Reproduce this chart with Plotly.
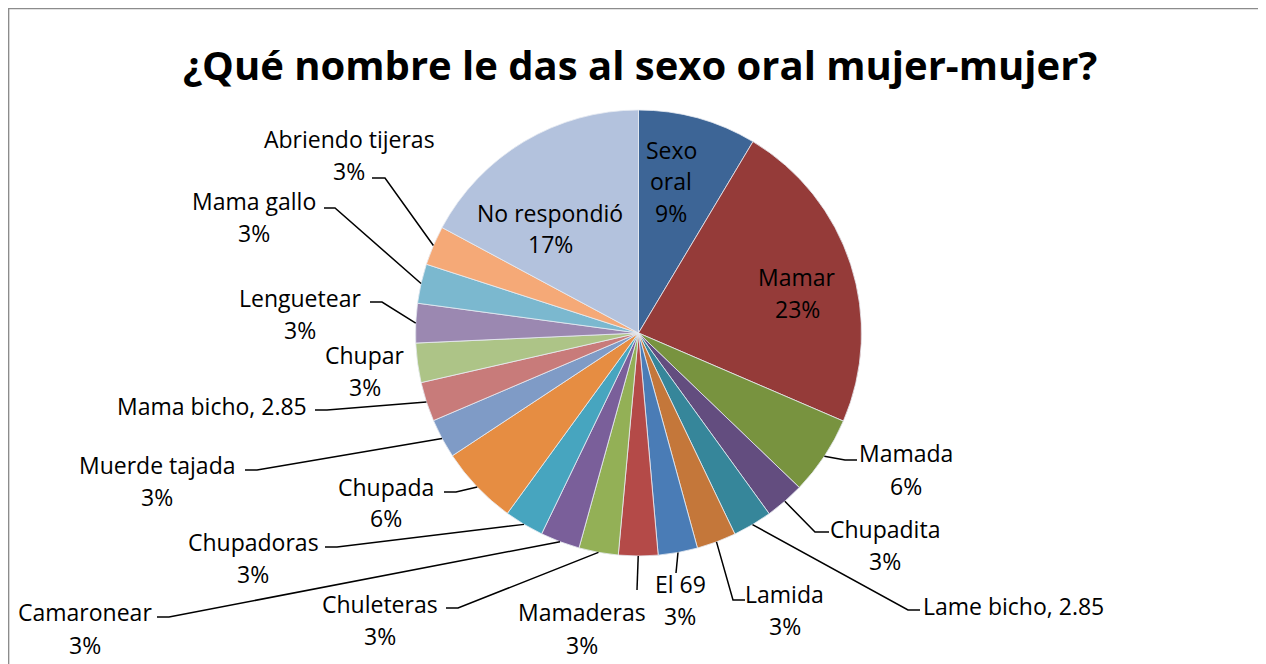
import math
import plotly.graph_objects as go

W, H = 1266, 664
OX, OY = 8, 8  # page offset of the figure inside the browser window

# --- DATA ---
labels = ["Sexo oral", "Mamar", "Mamada", "Chupadita", "Lame bicho", "Lamida", "El 69",
          "Mamaderas", "Chuleteras", "Camaronear", "Chupadoras", "Chupada", "Muerde tajada",
          "Mama bicho", "Chupar", "Lenguetear", "Mama gallo", "Abriendo tijeras", "No respondió"]
values = [8.57, 22.86, 5.71, 2.85, 2.85, 2.85, 2.85, 2.85, 2.85, 2.85, 2.85, 5.71, 2.85,
          2.85, 2.85, 2.85, 2.85, 2.85, 17.14]
value_labels = ["Lame bicho", "Mama bicho"]  # these show "name, value" instead of percent

colors = ["#3D6596", "#953B39", "#78933F", "#634D7F", "#36869A", "#C4773A", "#4A7CB6",
          "#B44A48", "#93B056", "#7A5F9A", "#47A5BF", "#E68D42", "#7F9BC6", "#C87B7A",
          "#ADC487", "#9B88B1", "#7BB8CF", "#F5A977", "#B3C2DD"]

# --- LAYOUT: label positions in window pixels (text centre) and leader elbows ---
cx, cy, r = 638.5, 333, 223
label_pos = {
    "Sexo oral": (671, [150, 181, 213], None),
    "Mamar": (797, [277, 309], None),
    "No respondió": (550, [213, 244], None),
    "Mamada": (906, [453, 486], [(857, 460), (845, 460)]),
    "Chupadita": (885, [529, 561], [(829, 532), (815, 532)]),
    "Lame bicho": (1013, [606], [(920, 610), (908, 610)]),
    "Lamida": (785, [594, 626], [(745, 600), (733, 600)]),
    "El 69": (680, [584, 616], [(676, 573)]),
    "Mamaderas": (582, [612, 645], [(637, 590)]),
    "Chuleteras": (380, [604, 636], [(446, 608), (458, 608)]),
    "Camaronear": (85, [612, 645], [(157, 617), (169, 617)]),
    "Chupadoras": (253, [542, 574], [(325, 547), (337, 547)]),
    "Chupada": (386, [487, 518], [(444, 492), (456, 492)]),
    "Muerde tajada": (157, [465, 497], [(245, 470), (257, 470)]),
    "Mama bicho": (212, [406], [(315, 410), (327, 410)]),
    "Chupar": (365, [355, 387], None),
    "Lenguetear": (300, [298, 330], [(370, 302), (382, 302)]),
    "Mama gallo": (254, [201, 233], [(324, 208), (335, 208)]),
    "Abriendo tijeras": (349, [139, 171], [(372, 178), (385, 178)]),
}
name_breaks = {"Sexo oral": ["Sexo", "oral"]}
FONT = "Open Sans"


def px(x, y):
    return (x - OX) / W, 1 - (y - OY) / H


fig = go.Figure(go.Pie(
    labels=labels,
    values=values,
    sort=False,
    direction="clockwise",
    rotation=0,
    textinfo="none",
    hoverinfo="label+percent",
    marker=dict(colors=colors, line=dict(color="#E8ECF2", width=0.8)),
    domain=dict(x=[(cx - r - OX) / W, (cx + r - OX) / W],
                y=[1 - (cy + r - OY) / H, 1 - (cy - r - OY) / H]),
    showlegend=False,
))

total = sum(values)
annotations = []
shapes = []
cum = 0.0
for name, v in zip(labels, values):
    mid = (cum + v / 2) / total * 2 * math.pi
    cum += v
    tx, ys, leader = label_pos[name]
    if name in value_labels:
        lines = [f"{name}, {v:.2f}"]
    else:
        lines = name_breaks.get(name, [name]) + [f"{round(v / total * 100)}%"]
    for txt, ty in zip(lines, ys):
        x, y = px(tx, ty)
        annotations.append(dict(x=x, y=y, xref="paper", yref="paper", text=txt,
                                showarrow=False, xanchor="center", yanchor="middle",
                                font=dict(family=FONT, size=23, color="#000000")))
    if leader:
        ax = cx + r * math.sin(mid)
        ay = cy - r * math.cos(mid)
        pts = leader + [(ax, ay)]
        path = "M " + " L ".join(f"{px(a, b)[0]},{px(a, b)[1]}" for a, b in pts)
        shapes.append(dict(type="path", path=path, xref="paper", yref="paper",
                           line=dict(color="#000000", width=1.5)))

# chart frame
shapes.append(dict(type="rect", xref="paper", yref="paper",
                   x0=0.6 / W, x1=1.02, y0=-0.02, y1=1 - 0.6 / H,
                   line=dict(color="#8C8C8C", width=1.5)))

tx, ty = px(640, 65)
annotations.append(dict(x=tx, y=ty, xref="paper", yref="paper",
                        text="<b>¿Qué nombre le das al sexo oral mujer-mujer?</b>",
                        showarrow=False, xanchor="center", yanchor="middle",
                        font=dict(family=FONT, size=40, color="#000000")))

fig.update_layout(
    width=W, height=H,
    margin=dict(l=0, r=0, t=0, b=0),
    paper_bgcolor="white",
    plot_bgcolor="white",
    annotations=annotations,
    shapes=shapes,
)

fig.write_html("out.html")
